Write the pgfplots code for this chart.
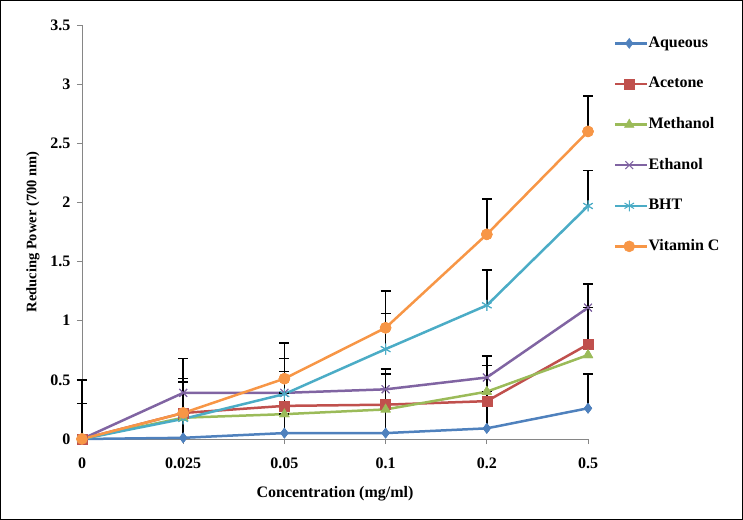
\documentclass[border=0pt]{standalone}
\usepackage{fontspec}
\setmainfont{Liberation Serif}
\usepackage{pgfplots}
\usepackage{pgfplotstable}
\pgfplotsset{compat=1.18}
\definecolor{cAq}{HTML}{4F81BD}
\definecolor{cAc}{HTML}{C0504D}
\definecolor{cMe}{HTML}{9BBB59}
\definecolor{cEt}{HTML}{8064A2}
\definecolor{cBh}{HTML}{4BACC6}
\definecolor{cVc}{HTML}{F79646}
\definecolor{axgray}{HTML}{868686}
\pgfplotstableread{
x y e
0 0    0.30
1 0.01 0.47
2 0.05 0.52
3 0.05 0.50
4 0.09 0.53
5 0.26 0.29
}\aqueous
\pgfplotstableread{
x y e
0 0    0
1 0.22 0
2 0.28 0
3 0.29 0
4 0.32 0
5 0.80 0
}\acetone
\pgfplotstableread{
x y e
0 0    0
1 0.18 0
2 0.21 0
3 0.25 0
4 0.40 0
5 0.71 0.60
}\methanol
\pgfplotstableread{
x y e
0 0    0.50
1 0.39 0.29
2 0.39 0
3 0.42 0.17
4 0.52 0.18
5 1.11 0
}\ethanol
\pgfplotstableread{
x y e
0 0    0
1 0.17 0
2 0.38 0.30
3 0.76 0.30
4 1.13 0.30
5 1.97 0.30
}\bht
\pgfplotstableread{
x y e
0 0    0
1 0.22 0.29
2 0.51 0.30
3 0.94 0.31
4 1.73 0.30
5 2.60 0.30
}\vitc
\pgfplotsset{
  errstyle/.style={mark=none, draw=none, forget plot,
    error bars/.cd, y dir=plus, y explicit, error mark=|,
    error bar style={draw=black, line width=1.5bp},
    error mark options={draw=black, line width=1.5bp, mark size=5bp}},
  sAq/.style={cAq, mark=diamond*, mark size=5bp, mark options={solid, line width=0.5bp}},
  sAc/.style={cAc, mark=square*, mark size=5bp, mark options={solid, line width=0.5bp}},
  sMe/.style={cMe, mark=triangle*, mark size=5.5bp, mark options={solid, line width=0.5bp}},
  sEt/.style={cEt, mark=x, mark size=5.5bp, mark options={solid, line width=1bp}},
  sBh/.style={cBh, mark=asterisk, mark size=5.5bp, mark options={solid, line width=1bp}},
  sVc/.style={cVc, mark=*, mark size=5.5bp, mark options={solid, line width=0.5bp}},
}
\begin{document}
\begin{tikzpicture}[font=\fontsize{16bp}{19bp}\selectfont\bfseries]
\draw[black, line width=1bp] (0.5bp,0.5bp) rectangle (742.5bp,519.5bp);
\begin{axis}[
  at={(82bp,81bp)}, anchor=south west,
  scale only axis, width=506bp, height=414bp,
  xmin=0, xmax=5, ymin=0, ymax=3.5,
  axis lines=left,
  axis line style={draw=axgray, line width=0.8bp, -},
  xtick={0,1,2,3,4,5},
  xticklabels={0,0.025,0.05,0.1,0.2,0.5},
  ytick={0,0.5,1,1.5,2,2.5,3,3.5},
  yticklabels={0,0.5,1,1.5,2,2.5,3,3.5},
  tick align=outside,
  major tick length=5bp,
  tick style={draw=axgray, line width=0.8bp},
  xticklabel style={yshift=-10bp},
  yticklabel style={xshift=-3bp},
  xlabel={Concentration (mg/ml)},
  ylabel={\fontsize{14.5bp}{17bp}\selectfont Reducing Power (700 nm)},
  xlabel style={at={(axis description cs:0.5,-0.133)}, anchor=center},
  ylabel style={at={(axis description cs:-0.097,0.5)}, anchor=center},
  legend style={at={(axis description cs:1.051,0.973)}, anchor=north west,
    draw=none, fill=none, inner sep=0pt, row sep=26.6bp,
    nodes={inner sep=0pt, text height=11bp, text depth=3bp},
    /tikz/every even column/.append style={column sep=0bp}},
  legend cell align=left,
  legend image code/.code={\draw[mark repeat=2,mark phase=2] plot coordinates {(0bp,0bp) (14bp,0bp) (28bp,0bp)}; \path (28bp,0bp) -- (32bp,0bp);},
  every axis plot/.append style={line width=2.5bp},
  clip=false,
]
\addplot[sAq] table[x=x,y=y] {\aqueous};
\addlegendentry{Aqueous}
\addplot[sAc] table[x=x,y=y] {\acetone};
\addlegendentry{Acetone}
\addplot[sMe] table[x=x,y=y] {\methanol};
\addlegendentry{Methanol}
\addplot[sEt] table[x=x,y=y] {\ethanol};
\addlegendentry{Ethanol}
\addplot[sBh] table[x=x,y=y] {\bht};
\addlegendentry{BHT}
\addplot[sVc] table[x=x,y=y] {\vitc};
\addlegendentry{Vitamin C}
\addplot[errstyle] table[x=x,y=y,y error=e] {\aqueous};
\addplot[errstyle] table[x=x,y=y,y error=e] {\methanol};
\addplot[errstyle] table[x=x,y=y,y error=e] {\ethanol};
\addplot[errstyle] table[x=x,y=y,y error=e] {\bht};
\addplot[errstyle] table[x=x,y=y,y error=e] {\vitc};
\addplot[sAq, only marks, forget plot] table[x=x,y=y] {\aqueous};
\addplot[sAc, only marks, forget plot] table[x=x,y=y] {\acetone};
\addplot[sMe, only marks, forget plot] table[x=x,y=y] {\methanol};
\addplot[sEt, only marks, forget plot] table[x=x,y=y] {\ethanol};
\addplot[sBh, only marks, forget plot] table[x=x,y=y] {\bht};
\addplot[sVc, only marks, forget plot] table[x=x,y=y] {\vitc};
\end{axis}
\end{tikzpicture}
\end{document}
